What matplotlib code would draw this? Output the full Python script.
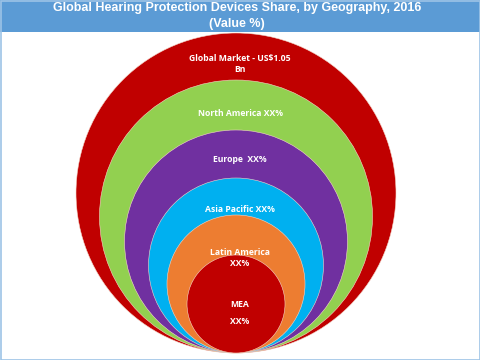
import matplotlib
matplotlib.use("Agg")
import matplotlib.pyplot as plt
from matplotlib.patches import Circle, Rectangle

# Data
title_lines = ["Global Hearing Protection Devices Share, by Geography, 2016", "(Value %)"]
regions = ["Global Market - US$1.05\nBn", "North America XX%", "Europe  XX%", "Asia Pacific XX%",
           "Latin America\nXX%", "MEA\n\nXX%"]

# Layout / style
radii = [160, 136.5, 111.5, 87.5, 69, 49]
label_y = [64, 113, 160, 209, 258, 313]
colors = ["#C00000", "#92D050", "#7030A0", "#00B0F0", "#ED7D31", "#C00000"]
cx, bottom = 236, 353

fig = plt.figure(figsize=(4.8, 3.6), dpi=100)
ax = fig.add_axes([0, 0, 1, 1])
ax.set_xlim(0, 480)
ax.set_ylim(360, 0)
ax.axis("off")

for r, c in zip(radii, colors):
    ax.add_patch(Circle((cx, bottom - r), r, facecolor=c, edgecolor="#f4d6c8", linewidth=0.4, zorder=2))

for txt, y in zip(regions, label_y):
    ls = 0.95 if "\n\n" in txt else 1.2
    ax.text(240, y, txt, ha="center", va="center", color="white", fontsize=6.2,
            fontweight="bold", family="Open Sans", linespacing=ls, zorder=5)

# Title banner
ax.add_patch(Rectangle((0, 0), 480, 32, facecolor="#5B9BD5", edgecolor="none", zorder=6))
ax.text(237, 8, title_lines[0], ha="center", va="center", color="white", fontsize=9,
        fontweight="bold", family="Liberation Sans", zorder=7)
ax.text(237, 24, title_lines[1], ha="center", va="center", color="white", fontsize=9,
        fontweight="bold", family="Liberation Sans", zorder=7)

# Border
ax.add_patch(Rectangle((0.5, 0.5), 479, 359, facecolor="none", edgecolor="#9DC3E6", linewidth=1.2, zorder=8))

fig.savefig("out.png", dpi=100)
